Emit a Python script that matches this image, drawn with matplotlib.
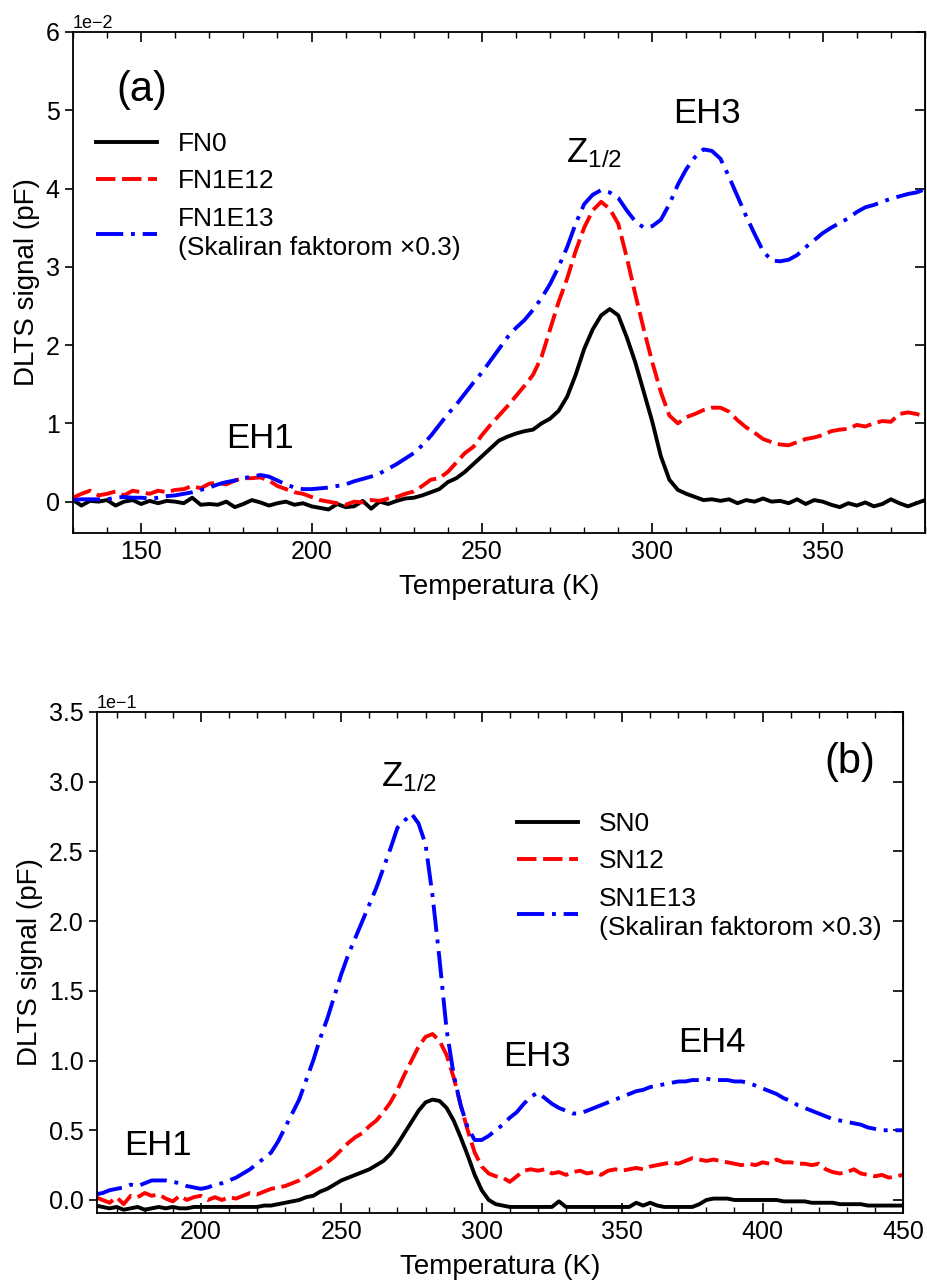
import numpy as np
import matplotlib
matplotlib.use("Agg")
import matplotlib.pyplot as plt
from matplotlib.ticker import MultipleLocator, NullFormatter

plt.rcParams["font.family"] = ["Liberation Sans", "DejaVu Sans"]

# (a) FN uzorci, signal u jedinicama 1e-2 pF
temp_a = np.arange(130, 380.1, 2.5)
fn0 = [0.02, -0.05, 0.01, 0.0, 0.02, -0.05, 0.0, 0.02, -0.03, 0.01,
       -0.02, 0.01, 0.0, -0.02, 0.05, -0.04, -0.03, -0.04, 0.0, -0.07,
       -0.03, 0.02, -0.01, -0.05, -0.02, 0.0, -0.04, -0.02, -0.06, -0.08,
       -0.1, -0.03, -0.07, -0.06, 0.01, -0.09, 0.0, -0.03, 0.01, 0.04,
       0.05, 0.08, 0.12, 0.16, 0.25, 0.3, 0.38, 0.48, 0.58, 0.68,
       0.78, 0.83, 0.87, 0.9, 0.92, 1.0, 1.06, 1.16, 1.34, 1.62,
       1.95, 2.2, 2.38, 2.46, 2.38, 2.1, 1.78, 1.4, 1.02, 0.58,
       0.28, 0.15, 0.1, 0.06, 0.02, 0.03, 0.01, 0.03, -0.02, 0.02,
       0.0, 0.04, 0.0, 0.01, -0.02, 0.03, -0.03, 0.02, 0.0, -0.04,
       -0.07, -0.02, -0.05, -0.01, -0.06, -0.03, 0.03, -0.02, -0.06, -0.02,
       0.02]
fn1e12 = [0.05, 0.1, 0.14, 0.08, 0.1, 0.13, 0.08, 0.14, 0.12, 0.1,
          0.14, 0.12, 0.15, 0.16, 0.2, 0.17, 0.23, 0.24, 0.22, 0.27,
          0.3, 0.3, 0.31, 0.27, 0.2, 0.16, 0.12, 0.1, 0.06, 0.02,
          0.0, -0.02, -0.04, 0.0, -0.01, 0.02, 0.01, 0.04, 0.06, 0.1,
          0.13, 0.2, 0.28, 0.3, 0.38, 0.5, 0.62, 0.7, 0.85, 0.98,
          1.1, 1.22, 1.35, 1.48, 1.62, 1.85, 2.2, 2.55, 2.85, 3.2,
          3.5, 3.72, 3.83, 3.74, 3.55, 3.12, 2.65, 2.2, 1.78, 1.4,
          1.1, 1.0, 1.08, 1.12, 1.17, 1.2, 1.2, 1.15, 1.04, 0.95,
          0.88, 0.8, 0.76, 0.73, 0.72, 0.76, 0.8, 0.82, 0.85, 0.9,
          0.92, 0.93, 0.98, 0.96, 1.0, 1.03, 1.02, 1.12, 1.14, 1.12,
          1.09]
fn1e13 = [0.02, 0.03, 0.03, 0.03, 0.03, 0.05, 0.06, 0.05, 0.05, 0.04,
          0.05, 0.07, 0.08, 0.1, 0.12, 0.15, 0.18, 0.22, 0.25, 0.27,
          0.3, 0.32, 0.34, 0.32, 0.27, 0.22, 0.18, 0.16, 0.16, 0.17,
          0.18, 0.2, 0.22, 0.26, 0.29, 0.32, 0.36, 0.42, 0.48, 0.55,
          0.62, 0.72, 0.84, 0.98, 1.12, 1.24, 1.38, 1.52, 1.65, 1.8,
          1.95, 2.1, 2.22, 2.32, 2.45, 2.6, 2.78, 3.0, 3.25, 3.55,
          3.8, 3.92, 3.98, 3.95, 3.88, 3.72, 3.58, 3.5, 3.52, 3.6,
          3.8, 4.05, 4.25, 4.4, 4.5, 4.48, 4.38, 4.15, 3.9, 3.65,
          3.42, 3.2, 3.08, 3.07, 3.09, 3.15, 3.25, 3.34, 3.43, 3.5,
          3.56, 3.62, 3.7, 3.76, 3.79, 3.83, 3.87, 3.9, 3.93, 3.95,
          3.99]

# (b) SN uzorci, signal u jedinicama 1e-1 pF
temp_b = np.arange(162.5, 450.1, 2.5)
sn0 = [-0.04, -0.05, -0.06, -0.05, -0.07, -0.06, -0.05, -0.07, -0.06, -0.05,
       -0.06, -0.05, -0.06, -0.06, -0.05, -0.05, -0.05, -0.05, -0.05, -0.05,
       -0.05, -0.05, -0.05, -0.05, -0.04, -0.04, -0.03, -0.02, -0.01, 0.0,
       0.02, 0.03, 0.06, 0.08, 0.11, 0.14, 0.16, 0.18, 0.2, 0.22,
       0.25, 0.28, 0.33, 0.4, 0.48, 0.56, 0.64, 0.7, 0.72, 0.71,
       0.66, 0.57, 0.45, 0.32, 0.18, 0.07, 0.0, -0.03, -0.04, -0.05,
       -0.05, -0.05, -0.05, -0.05, -0.05, -0.05, -0.01, -0.05, -0.05, -0.05,
       -0.05, -0.05, -0.05, -0.05, -0.05, -0.05, -0.05, -0.02, -0.04, -0.02,
       -0.04, -0.05, -0.05, -0.05, -0.05, -0.05, -0.03, 0.0, 0.01, 0.01,
       0.01, 0.0, 0.0, 0.0, 0.0, 0.0, 0.0, 0.0, -0.01, -0.01,
       -0.01, -0.01, -0.02, -0.02, -0.02, -0.02, -0.03, -0.03, -0.03, -0.03,
       -0.04, -0.04, -0.04, -0.04, -0.04, -0.04]
sn12 = [0.02, 0.0, -0.02, 0.02, -0.03, 0.03, 0.02, 0.05, 0.03, 0.04,
        0.01, -0.01, 0.03, 0.0, 0.02, 0.03, 0.0, 0.02, 0.0, 0.02,
        0.01, 0.03, 0.05, 0.04, 0.06, 0.08, 0.09, 0.1, 0.12, 0.14,
        0.17, 0.2, 0.23, 0.27, 0.31, 0.36, 0.41, 0.45, 0.48, 0.53,
        0.57, 0.63, 0.7, 0.79, 0.9, 1.0, 1.1, 1.17, 1.19, 1.14,
        1.04, 0.88, 0.68, 0.5, 0.34, 0.24, 0.19, 0.17, 0.16, 0.13,
        0.17, 0.21, 0.22, 0.21, 0.22, 0.19, 0.2, 0.18, 0.2, 0.21,
        0.19, 0.2, 0.18, 0.21, 0.22, 0.21, 0.22, 0.23, 0.22, 0.24,
        0.25, 0.26, 0.27, 0.26, 0.28, 0.3, 0.29, 0.28, 0.29, 0.28,
        0.27, 0.26, 0.25, 0.26, 0.25, 0.27, 0.26, 0.29, 0.27, 0.27,
        0.26, 0.26, 0.25, 0.26, 0.22, 0.2, 0.19, 0.2, 0.22, 0.19,
        0.18, 0.17, 0.18, 0.16, 0.17, 0.18]
sn1e13 = [0.04, 0.05, 0.07, 0.08, 0.09, 0.11, 0.1, 0.12, 0.14, 0.14,
          0.14, 0.13, 0.12, 0.1, 0.09, 0.08, 0.09, 0.11, 0.12, 0.14,
          0.16, 0.19, 0.22, 0.26, 0.3, 0.34, 0.42, 0.52, 0.62, 0.72,
          0.86, 1.0, 1.16, 1.3, 1.46, 1.62, 1.76, 1.88, 2.0, 2.12,
          2.24, 2.38, 2.52, 2.67, 2.72, 2.77, 2.7, 2.55, 2.18, 1.72,
          1.22, 0.9, 0.68, 0.52, 0.43, 0.43, 0.46, 0.5, 0.54, 0.59,
          0.63, 0.69, 0.74, 0.77, 0.73, 0.69, 0.66, 0.64, 0.62, 0.62,
          0.64, 0.66, 0.68, 0.7, 0.72, 0.74, 0.76, 0.78, 0.79, 0.81,
          0.82, 0.83, 0.84, 0.85, 0.85, 0.86, 0.86, 0.87, 0.86, 0.86,
          0.86, 0.85, 0.85, 0.84, 0.82, 0.8, 0.78, 0.76, 0.73, 0.71,
          0.68, 0.66, 0.64, 0.62, 0.6, 0.58, 0.57, 0.56, 0.55, 0.54,
          0.52, 0.51, 0.5, 0.5, 0.5, 0.5]

labels_a = ["FN0", "FN1E12", "FN1E13\n(Skaliran faktorom ×0.3)"]
labels_b = ["SN0", "SN12", "SN1E13\n(Skaliran faktorom ×0.3)"]

LW = 2.8
styles = [dict(color="black", linestyle="-"),
          dict(color="red", linestyle=(0, (5, 1.7))),
          dict(color="blue", linestyle=(0, (7, 2, 1, 2)))]
Z12 = r"$\mathregular{Z_{1/2}}$"

fig = plt.figure(figsize=(9.27, 12.83), dpi=100)
ax1 = fig.add_axes([0.0787, 0.5846, 0.9191, 0.3905])
ax2 = fig.add_axes([0.1046, 0.0546, 0.8695, 0.3905])


def style_axes(ax, ystep):
    ax.ticklabel_format(axis="y", style="sci", scilimits=(0, 0))
    ax.yaxis.get_offset_text().set_fontsize(13)
    ax.xaxis.set_major_locator(MultipleLocator(50))
    ax.xaxis.set_minor_locator(MultipleLocator(10))
    ax.yaxis.set_major_locator(MultipleLocator(ystep))
    ax.tick_params(axis="x", which="both", direction="in", top=True,
                   labelsize=18, pad=5)
    ax.tick_params(axis="x", which="major", length=7, width=1.2)
    ax.tick_params(axis="x", which="minor", length=4, width=1.0)
    ax.tick_params(axis="y", direction="out", length=6, width=1.2,
                   labelsize=18)
    sec = ax.secondary_yaxis("right")
    sec.yaxis.set_major_locator(MultipleLocator(ystep))
    sec.yaxis.set_major_formatter(NullFormatter())
    sec.tick_params(direction="in", length=7, width=1.2)
    for s in ax.spines.values():
        s.set_linewidth(1.3)
    ax.set_xlabel("Temperatura (K)", fontsize=20, labelpad=7)
    ax.set_ylabel("DLTS signal (pF)", fontsize=20)


def add_legend(ax, x0):
    leg = ax.legend(loc="upper left", bbox_to_anchor=(x0, 0.80),
                    frameon=False, fontsize=19, handlelength=2.3,
                    handletextpad=0.8, labelspacing=0.5, borderpad=0,
                    borderaxespad=0)
    for t in leg.get_texts():
        t.set_linespacing(1.3)


# (a)
for y, lab, st in zip([fn0, fn1e12, fn1e13], labels_a, styles):
    ax1.plot(temp_a, np.array(y) * 1e-2, lw=LW, label=lab, **st)
ax1.set_xlim(130, 380)
ax1.set_ylim(-0.004, 0.06)
style_axes(ax1, 0.01)
add_legend(ax1, 0.027)
ax1.text(150.3, 0.0526, "(a)", fontsize=30, ha="center", va="center")
ax1.text(185, 0.0081, "EH1", fontsize=25, ha="center", va="center")
ax1.text(283, 0.0445, Z12, fontsize=25, ha="center", va="center")
ax1.text(316, 0.0496, "EH3", fontsize=25, ha="center", va="center")

# (b)
for y, lab, st in zip([sn0, sn12, sn1e13], labels_b, styles):
    ax2.plot(temp_b, np.array(y) * 1e-1, lw=LW, label=lab, **st)
ax2.set_xlim(163, 450)
ax2.set_ylim(-0.0093, 0.35)
style_axes(ax2, 0.05)
add_legend(ax2, 0.521)
ax2.text(431, 0.314, "(b)", fontsize=30, ha="center", va="center")
ax2.text(274, 0.303, Z12, fontsize=25, ha="center", va="center")
ax2.text(184.6, 0.039, "EH1", fontsize=25, ha="center", va="center")
ax2.text(319.6, 0.103, "EH3", fontsize=25, ha="center", va="center")
ax2.text(382, 0.113, "EH4", fontsize=25, ha="center", va="center")

fig.savefig("out.png", dpi=100)
